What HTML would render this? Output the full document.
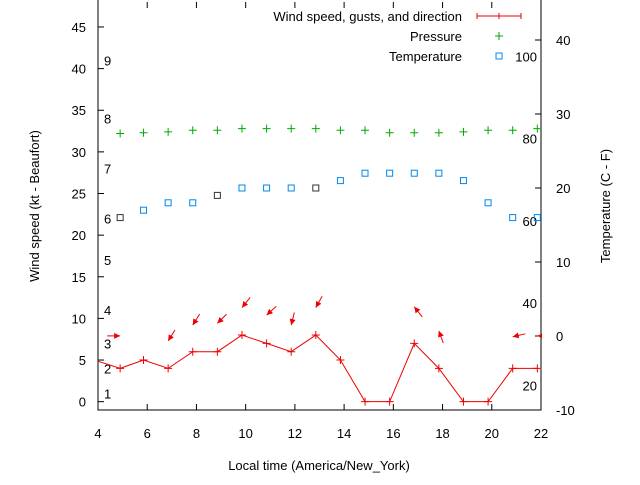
<!DOCTYPE html>
<html><head><meta charset="utf-8"><style>
body{margin:0;background:#fff}
svg text{font-family:"Liberation Sans",sans-serif;font-size:13px;fill:#000}
</style></head><body>
<svg id="chart" width="640" height="480" xmlns="http://www.w3.org/2000/svg">
<rect width="640" height="480" fill="#fff"/>
<g id="plot"></g>
</svg>
<script>
const hours=[4.9,5.85,6.85,7.85,8.85,9.85,10.85,11.85,12.85,13.85,14.85,15.85,16.85,17.85,18.85,19.85,20.85,21.85];
const windKt=[4,5,4,6,6,8,7,6,8,5,0,0,7,4,0,0,4,4];
const pressure=[32.2,32.3,32.4,32.6,32.6,32.8,32.8,32.8,32.8,32.6,32.6,32.3,32.3,32.3,32.4,32.6,32.6,32.8];
const tempC=[16,17,18,18,19,20,20,20,20,21,22,22,22,22,21,18,16,16];
const tempDark=[1,0,0,0,1,0,0,0,1,0,0,0,0,0,0,0,0,0];
const arrowHours=[4.9,6.85,7.85,8.85,9.85,10.85,11.85,12.85,16.85,17.85,20.85,21.85];
const arrowKt=[7.9,7.3,9.2,9.4,11.3,10.4,9.2,11.3,11.4,8.5,7.8,7.9];
const arrowDir=[90,212,212,225,219,228,194,209,322,340,257,270];
const xTicks=[4,6,8,10,12,14,16,18,20,22];
const yTicks=[0,5,10,15,20,25,30,35,40,45];
const cTicks=[-10,0,10,20,30,40];
const fTicks=[20,40,60,80,100];
const beaufort=[1,4,7,11,17,22,28,34,41];

const L=98,R=541,T=2,B=410;
const X=h=>L+(h-4)/(22-4)*(R-L);
const Y=k=>B-(k+1)/49*(B-T);
const YC=c=>336-c*7.4;
const YF=f=>YC((f-32)*5/9);
const NS="http://www.w3.org/2000/svg";
const g=document.getElementById('plot');
function el(t,a,p){const e=document.createElementNS(NS,t);for(const k in a)e.setAttribute(k,a[k]);(p||g).appendChild(e);return e;}
function txt(x,y,s,anchor){const e=el('text',{x:x,y:y,'text-anchor':anchor||'start'});e.textContent=s;return e;}

const fr=el('rect',{x:L,y:T-10,width:R-L,height:B-T+10,fill:'none',stroke:'#000','stroke-width':1});


xTicks.forEach(t=>{const x=X(t);
 el('line',{x1:x,y1:B,x2:x,y2:B-6,stroke:'#000'});el('line',{x1:x,y1:T,x2:x,y2:T+6,stroke:'#000'});
 const e=txt(x,438,t,'middle');});
yTicks.forEach(t=>{const y=Y(t);el('line',{x1:L,y1:y,x2:L+6,y2:y,stroke:'#000'});
 const e=txt(L-12,y+5,t,'end');});
cTicks.forEach(t=>{const y=YC(t);el('line',{x1:R,y1:y,x2:R-6,y2:y,stroke:'#000'});
 const e=txt(R+15,y+5,t,'start');});
fTicks.forEach(t=>{const e=txt(R-4,YF(t)+5,t,'end');});
beaufort.forEach((k,i)=>{const e=txt(104,Y(k)+5,i+1,'start');});

const defs=el('defs',{});const cp=el('clipPath',{id:'c'},defs);el('rect',{x:L,y:T-10,width:R-L+1,height:B-T+10},cp);
const clip=el('g',{'clip-path':'url(#c)'});

let pts=[[3.85,5]].concat(hours.map((h,i)=>[h,windKt[i]]));
const wl=el('polyline',{points:pts.map(p=>X(p[0])+','+Y(p[1])).join(' '),fill:'none',stroke:'#e00','stroke-width':1},clip);


hours.forEach((h,i)=>{const x=X(h),y=Y(windKt[i]);
 const m=el('path',{d:`M${x-4},${y}h8M${x},${y-4}v8`,stroke:'#e00','stroke-width':1},clip);
 });
hours.forEach((h,i)=>{const x=X(h),y=Y(pressure[i]);
 const m=el('path',{d:`M${x-4},${y}h8M${x},${y-4}v8`,stroke:'#0a0','stroke-width':1},clip);
 });
hours.forEach((h,i)=>{const x=X(h),y=YC(tempC[i]);
 const m=el('rect',{x:x-3,y:y-3,width:6,height:6,fill:'none',stroke:tempDark[i]?'#333':'#08e','stroke-width':1},clip);
 });
arrowHours.forEach((h,i)=>{const hx=X(h),hy=Y(arrowKt[i]);const a=arrowDir[i]*Math.PI/180;
 const dx=Math.sin(a),dy=-Math.cos(a);const tx=hx-dx*13,ty=hy-dy*13;
 const bx=hx-dx*6,by=hy-dy*6,px=-dy*3,py=dx*3;
 const m=el('g',{},clip);
 el('line',{x1:tx,y1:ty,x2:hx,y2:hy,stroke:'#e00'},m);
 el('polygon',{points:`${hx},${hy} ${bx+px},${by+py} ${bx-px},${by-py}`,fill:'#e00'},m);});

const lg=el('g',{});
[['Wind speed, gusts, and direction',21],['Pressure',41],['Temperature',61]].forEach(([s,y])=>{const e=el('text',{x:462,y:y,'text-anchor':'end'},lg);e.textContent=s;});
el('path',{d:'M477,16h44M477,13v6M521,13v6M499,13v6',stroke:'#e00',fill:'none'},lg);
el('path',{d:'M495,36h8M499,32v8',stroke:'#0a0'},lg);
el('rect',{x:496,y:53,width:6,height:6,fill:'none',stroke:'#08e'},lg);
let e=el('text',{x:0,y:0,transform:'translate(39,206) rotate(-90)','text-anchor':'middle'});e.textContent='Wind speed (kt - Beaufort)';

e=el('text',{x:0,y:0,transform:'translate(610,206) rotate(-90)','text-anchor':'middle'});e.textContent='Temperature (C - F)';

e=txt(319,470,'Local time (America/New_York)','middle');

</script>
</body></html>
